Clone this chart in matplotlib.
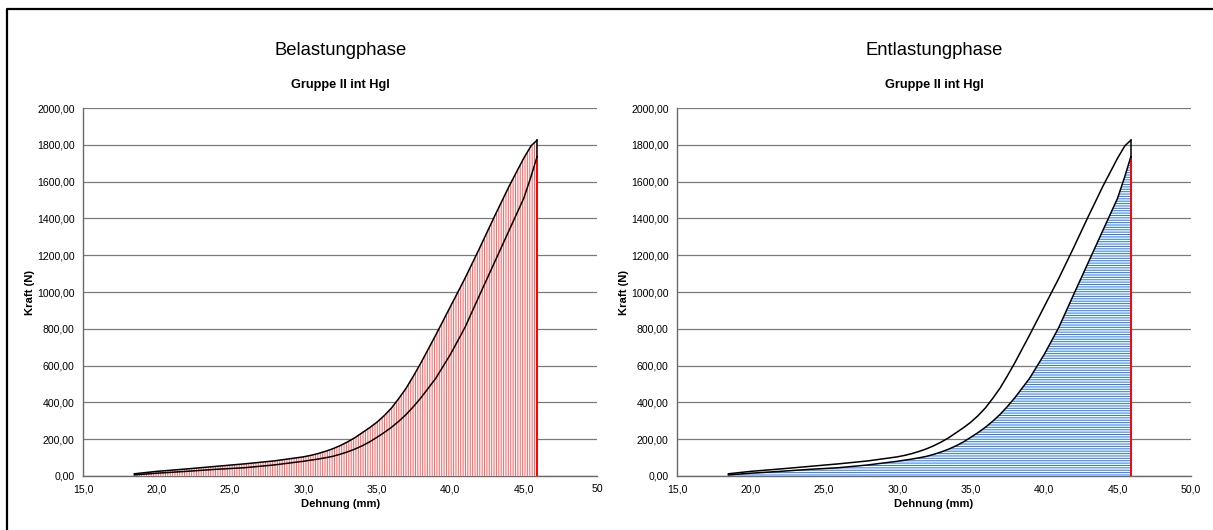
import matplotlib
matplotlib.use("Agg")
import matplotlib.pyplot as plt
from matplotlib.lines import Line2D
from matplotlib.ticker import FuncFormatter
import numpy as np

plt.rcParams['font.family'] = ['Liberation Sans', 'DejaVu Sans']

# Belastung (loading) curve: Dehnung (mm) vs Kraft (N)
dehnung_load = [18.5, 20.0, 22.0, 24.0, 26.0, 28.0, 30.0, 30.5, 31.0, 31.5, 32.0,
                32.5, 33.0, 33.5, 34.0, 34.5, 35.0, 35.5, 36.0, 36.5, 37.0, 37.5,
                38.0, 39.0, 40.0, 41.0, 42.0, 43.0, 44.0, 45.0, 45.5, 45.9]
kraft_load = [12, 25, 38, 52, 66, 82, 104, 112, 122, 134, 148,
              165, 185, 208, 235, 262, 292, 328, 370, 422, 478, 545,
              615, 765, 920, 1075, 1240, 1410, 1575, 1728, 1795, 1825]

# Entlastung (unloading) curve
dehnung_unload = [18.5, 20.0, 22.0, 24.0, 26.0, 28.0, 30.0, 30.5, 31.0, 31.5, 32.0,
                  32.5, 33.0, 33.5, 34.0, 34.5, 35.0, 35.5, 36.0, 36.5, 37.0, 37.5,
                  38.0, 39.0, 40.0, 41.0, 42.0, 43.0, 44.0, 45.0, 45.5, 45.9]
kraft_unload = [6, 15, 25, 36, 45, 60, 80, 86, 92, 99, 107,
                118, 131, 146, 164, 185, 210, 236, 265, 298, 335, 378,
                425, 530, 660, 808, 985, 1160, 1335, 1510, 1630, 1735]

x_ticks = [15, 20, 25, 30, 35, 40, 45, 50]
x_labels_left = ["15,0", "20,0", "25,0", "30,0", "35,0", "40,0", "45,0", "50"]
x_labels_right = ["15,0", "20,0", "25,0", "30,0", "35,0", "40,0", "45,0", "50,0"]
y_ticks = np.arange(0, 2001, 200)

titles = ["Belastungphase", "Entlastungphase"]
subtitle = "Gruppe II int Hgl"

fig = plt.figure(figsize=(12.13, 5.30), dpi=100)
ax_l = fig.add_axes([0.0684, 0.1019, 0.4240, 0.6943])
ax_r = fig.add_axes([0.5581, 0.1019, 0.4238, 0.6943])

xl = np.array(dehnung_load)
yl = np.array(kraft_load)
xu = np.array(dehnung_unload)
yu = np.array(kraft_unload)

# red vertical hatching under the loading curve
plt.rcParams['hatch.linewidth'] = 0.75
ax_l.fill_between(xl, 0, yl, facecolor='white', edgecolor='#ff6464',
                  hatch='|' * 7, linewidth=0, zorder=2)
# blue horizontal hatching under the unloading curve
ax_r.fill_between(xu, 0, yu, facecolor='white', edgecolor='#2f7cf0',
                  hatch='-' * 7, linewidth=0, zorder=2)

for ax, title, xlabels in ((ax_l, titles[0], x_labels_left),
                           (ax_r, titles[1], x_labels_right)):
    ax.set_xlim(15, 50)
    ax.set_ylim(0, 2000)
    ax.set_yticks(y_ticks)
    ax.yaxis.set_major_formatter(FuncFormatter(lambda v, p: f"{v:.2f}".replace('.', ',')))
    ax.set_xticks(x_ticks)
    ax.set_xticklabels(xlabels)
    ax.tick_params(length=0, labelsize=7.6, pad=6, colors='black')
    ax.grid(axis='y', color='#7a7a7a', linewidth=0.9, zorder=1)
    for s in ('top', 'right'):
        ax.spines[s].set_visible(False)
    for s in ('left', 'bottom'):
        ax.spines[s].set_color('#6a6a6a')
        ax.spines[s].set_linewidth(1.0)
        ax.spines[s].set_zorder(1.5)
    ax.set_axisbelow(True)

    # closing red line at maximum extension, then the hysteresis loop
    ax.plot([xu[-1], xu[-1]], [0, yu[-1]], color='#ff0000', linewidth=1.4, zorder=3)
    ax.plot(xl, yl, color='black', linewidth=1.1, zorder=4)
    ax.plot(xu, yu, color='black', linewidth=1.1, zorder=4)
    ax.plot([xl[-1], xu[-1]], [yl[-1], yu[-1]], color='black', linewidth=1.1, zorder=4)

    ax.text(0.5, 1.155, title, transform=ax.transAxes, ha='center', va='center',
            fontsize=13.3)
    ax.text(0.5, 1.062, subtitle, transform=ax.transAxes, ha='center', va='center',
            fontsize=9.2, fontweight='bold')
    ax.set_ylabel("Kraft (N)", fontsize=8.1, fontweight='bold', labelpad=1.5)
    ax.set_xlabel("Dehnung (mm)", fontsize=8.1, fontweight='bold', labelpad=3.5)

# outer frame (left and top edges)
fig.add_artist(Line2D([6.5 / 1213, 6.5 / 1213, 1.0], [0.0, 1 - 8.5 / 530, 1 - 8.5 / 530],
                      transform=fig.transFigure, color='black', linewidth=1.6))

fig.savefig("out.png", dpi=100)
